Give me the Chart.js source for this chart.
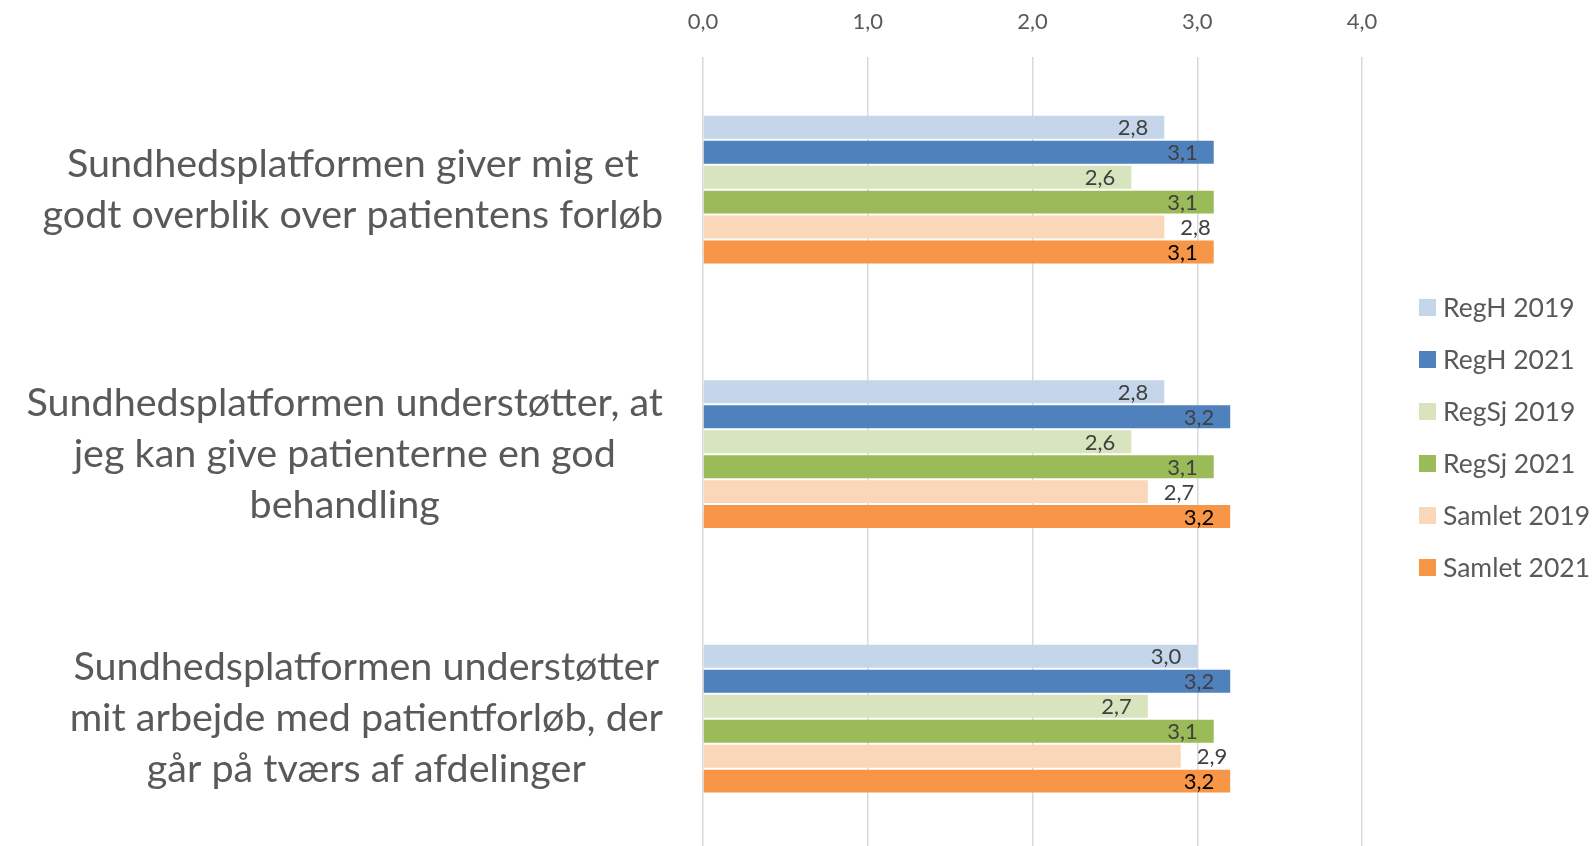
<!DOCTYPE html>
<html>
<head>
<meta charset="utf-8">
<script src="https://cdn.jsdelivr.net/npm/chart.js@4/dist/chart.umd.min.js"></script>
<style>
    html, body { margin: 0; padding: 0; background: #fff; overflow: hidden; }
    #wrap { position: relative; width: 1595px; height: 851px; }
</style>
</head>
<body>
<div id="wrap"><canvas id="chart"></canvas></div>
<script>
// ==========================================
// DATA
// ==========================================
const categories = [
    ['Sundhedsplatformen giver mig et', 'godt overblik over patientens forløb'],
    ['Sundhedsplatformen understøtter, at', 'jeg kan give patienterne en god', 'behandling'],
    ['Sundhedsplatformen understøtter', 'mit arbejde med patientforløb, der', 'går på tværs af afdelinger']
];
const seriesNames = ['RegH 2019', 'RegH 2021', 'RegSj 2019', 'RegSj 2021', 'Samlet 2019', 'Samlet 2021'];
const regH2019 = [2.8, 2.8, 3.0];
const regH2021 = [3.1, 3.2, 3.2];
const regSj2019 = [2.6, 2.6, 2.7];
const regSj2021 = [3.1, 3.1, 3.1];
const samlet2019 = [2.8, 2.7, 2.9];
const samlet2021 = [3.1, 3.2, 3.2];
const xTicks = [0, 1, 2, 3, 4];

const seriesColors = ['#C5D5EA', '#4F81BD', '#D7E4BD', '#9BBB59', '#FAD7B9', '#F79646'];
const labelColors = ['#404040', '#404040', '#404040', '#404040', '#404040', '#000000'];
const FONT = 'Lato, "Open Sans", sans-serif';

// ==========================================
// PLUGINS
// ==========================================
// category labels: lines centred in a block, block right-aligned to the axis
const categoryLabels = {
    id: 'categoryLabels',
    afterDraw(chart) {
        const ctx = chart.ctx;
        const yScale = chart.scales.y;
        const right = chart.chartArea.left - 40;
        const lineH = 51;
        ctx.save();
        ctx.font = '39.5px ' + FONT;
        ctx.fillStyle = '#595959';
        ctx.textAlign = 'center';
        ctx.textBaseline = 'middle';
        categories.forEach((lines, i) => {
            const w = Math.max(...lines.map(l => ctx.measureText(l).width));
            const cx = right - w / 2;
            const cy = yScale.getPixelForValue(i);
            const y0 = cy - (lines.length - 1) * lineH / 2;
            lines.forEach((l, j) => ctx.fillText(l, cx, y0 + j * lineH));
        });
        ctx.restore();
    }
};

// value labels: inside end, except Samlet 2019 outside end
const valueLabels = {
    id: 'valueLabels',
    afterDatasetsDraw(chart) {
        const ctx = chart.ctx;
        ctx.save();
        ctx.font = '22px ' + FONT;
        ctx.textBaseline = 'middle';
        chart.data.datasets.forEach((ds, di) => {
            const meta = chart.getDatasetMeta(di);
            meta.data.forEach((bar, i) => {
                const txt = ds.data[i].toFixed(1).replace('.', ',');
                ctx.fillStyle = labelColors[di];
                if (di === 4) {
                    ctx.textAlign = 'left';
                    ctx.fillText(txt, bar.x + 16, bar.y + 1);
                } else {
                    ctx.textAlign = 'right';
                    ctx.fillText(txt, bar.x - 16, bar.y + 1);
                }
            });
        });
        ctx.restore();
    }
};

// legend at the right
const sideLegend = {
    id: 'sideLegend',
    afterDraw(chart) {
        const ctx = chart.ctx;
        const x = chart.chartArea.right + 57;
        const top = 307;
        const step = 52;
        ctx.save();
        ctx.font = '26.5px ' + FONT;
        ctx.textBaseline = 'middle';
        ctx.textAlign = 'left';
        chart.data.datasets.forEach((ds, i) => {
            const y = top + i * step;
            ctx.fillStyle = ds.backgroundColor;
            ctx.fillRect(x, y - 8, 17, 17);
            ctx.fillStyle = '#595959';
            ctx.fillText(ds.label, x + 24, y + 1);
        });
        ctx.restore();
    }
};

// ==========================================
// CHART
// ==========================================
function initChart() {
    const ctx = document.getElementById('chart').getContext('2d');
    const values = [regH2019, regH2021, regSj2019, regSj2021, samlet2019, samlet2021];

    new Chart(ctx, {
        type: 'bar',
        data: {
            labels: categories.map(c => c.join(' ')),
            datasets: values.map((v, i) => ({
                label: seriesNames[i],
                data: v,
                backgroundColor: seriesColors[i],
                borderWidth: 0,
                categoryPercentage: 0.566,
                barPercentage: 0.92
            }))
        },
        options: {
            indexAxis: 'y',
            responsive: true,
            maintainAspectRatio: false,
            animation: false,
            layout: { padding: { left: 703, right: 233, top: -13, bottom: 0 } },
            plugins: { legend: { display: false }, tooltip: { enabled: false } },
            scales: {
                x: {
                    position: 'top',
                    min: 0,
                    max: 4,
                    afterBuildTicks: (axis) => { axis.ticks = xTicks.map(v => ({ value: v })); },
                    ticks: {
                        padding: 22,
                        color: '#595959',
                        font: { size: 22, family: FONT },
                        callback: (v) => Number(v).toFixed(1).replace('.', ',')
                    },
                    grid: { color: '#D9D9D9', lineWidth: 1.5, drawTicks: false },
                    border: { display: false }
                },
                y: { display: false }
            }
        },
        plugins: [categoryLabels, valueLabels, sideLegend]
    });
}

document.addEventListener('DOMContentLoaded', initChart);
</script>
</body>
</html>
